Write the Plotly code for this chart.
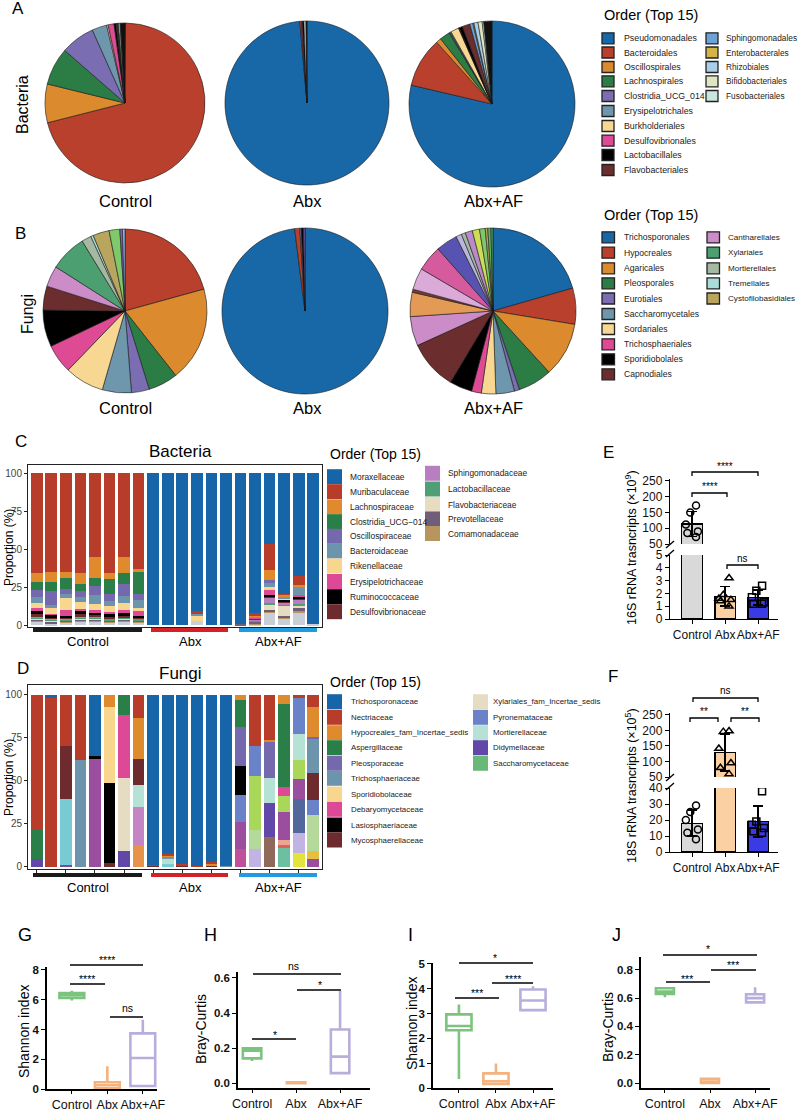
import numpy as np
import plotly.graph_objects as go

W, H = 797, 1111
FONT = "Liberation Sans, Arial, Helvetica, sans-serif"


def fx(x):
    return x / W


def fy(y):
    return 1 - y / H


def xdom(a, b):
    return [a / W, b / W]


def ydom(top, bottom):
    return [1 - bottom / H, 1 - top / H]


groups = ["Control", "Abx", "Abx+AF"]

# ======================= DATA =======================
# ---- A: bacterial orders, pies ----
bac_orders = ["Pseudomonadales", "Bacteroidales", "Oscillospirales", "Lachnospirales",
              "Clostridia_UCG_014", "Erysipelotrichales", "Burkholderiales",
              "Desulfovibrionales", "Lactobacillales", "Flavobacteriales",
              "Sphingomonadales", "Enterobacterales", "Rhizobiales",
              "Bifidobacteriales", "Fusobacteriales"]
pieA_labels = bac_orders + ["Others"]
pieA_control = [0.1, 71.0, 7.8, 7.6, 6.9, 3.0, 0.3, 1.2, 0.4, 0.2, 0.1, 0.1, 0.1, 0.3, 0.1, 0.9]
pieA_abx = [98.6, 0.3, 0, 0, 0, 0, 0, 0.2, 0.3, 0, 0, 0, 0, 0, 0.4, 0.2]
pieA_abxaf = [78.5, 9.7, 1.0, 2.0, 0.2, 0.2, 1.6, 0.1, 0.7, 1.5, 0.6, 0.2, 0.8, 0.8, 0.3, 1.6]

# ---- B: fungal orders, pies ----
fun_orders = ["Trichosporonales", "Hypocreales", "Agaricales", "Pleosporales", "Eurotiales",
              "Saccharomycetales", "Sordariales", "Trichosphaeriales", "Sporidiobolales",
              "Capnodiales", "Cantharellales", "Xylariales", "Mortierellales", "Tremellales",
              "Cystofilobasidiales"]
pieB_labels = fun_orders + ["Other lime", "Other violet", "Other sky"]
pieB_control = [0, 20.6, 18.6, 5.8, 3.5, 5.7, 7.7, 5.7, 7.2, 4.7, 4.1, 7.2, 1.9, 0.5, 3.2, 2.1, 0.5, 0.5]
pieB_abx = [98.0, 1.0, 0, 0, 0.3, 0, 0, 0, 0.4, 0, 0, 0, 0, 0, 0, 0, 0.3, 0]
pieB_abxaf_labels = ["Trichosporonales", "Hypocreales", "Agaricales", "Pleosporales", "Eurotiales",
                     "Saccharomycetales", "Sordariales", "Trichosphaeriales", "Sporidiobolales",
                     "Capnodiales", "Cantharellales", "Other orange", "Other brown", "Other lilac",
                     "Other magenta", "Other indigo", "Other lavender", "Mortierellales",
                     "Other orchid", "Other yellowgreen", "Other lime", "Cystofilobasidiales",
                     "Other green", "Xylariales"]
pieB_abxaf = [20.5, 7.0, 10.6, 6.6, 1.0, 3.6, 2.8, 1.9, 4.4, 9.6, 5.7, 4.7, 0.6, 4.2,
              5.0, 4.2, 1.1, 0.8, 1.4, 1.4, 1.1, 0.5, 0.6, 0.4]

# ---- C: bacterial families per sample (stacked %) ----
samples = ["Control_1", "Control_2", "Control_3", "Control_4", "Control_5", "Control_6",
           "Control_7", "Control_8", "Abx_1", "Abx_2", "Abx_3", "Abx_4", "Abx_5", "Abx_6",
           "AbxAF_1", "AbxAF_2", "AbxAF_3", "AbxAF_4", "AbxAF_5", "AbxAF_6"]
c_Moraxellaceae = [0, 0, 0, 0, 0, 0, 0, 0, 100, 100, 100, 91, 100, 100, 99, 92.3, 47, 79.5, 67.5, 99.5]
c_Muribaculaceae = [66, 65, 65, 66, 55, 66, 55.5, 63, 0, 0, 0, 1.5, 0, 0, 0, 1.3, 17, 0.5, 6, 0]
c_Lachnospiraceae = [5.5, 6.5, 4, 7, 14, 4, 10.5, 2, 0, 0, 0, 0, 0, 0, 0, 0.5, 6.5, 1, 1.5, 0]
c_Clostridia_UCG014 = [5.5, 6, 7, 4.5, 5, 9.5, 7, 14.5, 0, 0, 0, 0, 0, 0, 0, 0, 0, 0, 0, 0]
c_Oscillospiraceae = [4.5, 9.5, 3.5, 4, 6.5, 4.5, 8, 4, 0, 0, 0, 0, 0, 0, 0, 0, 2, 0.5, 0, 0]
c_Bacteroidaceae = [4, 1.5, 3, 3.5, 5.5, 3.5, 4.5, 5, 0, 0, 0, 1, 0, 0, 0, 0.8, 2.5, 1, 5, 0]
c_Rikenellaceae = [3.5, 4, 7.5, 4.5, 4, 4, 4.5, 2, 0, 0, 0, 4, 0, 0, 0, 0, 2, 0.5, 0, 0]
c_Erysipelotrichaceae = [1.5, 0.5, 4, 1.5, 2, 1, 2, 3.5, 0, 0, 0, 0, 0, 0, 0, 0.5, 3, 0.5, 1, 0]
c_Ruminococcaceae = [2.5, 2.5, 1, 2, 1.5, 2, 2, 1, 0, 0, 0, 0, 0, 0, 0, 0, 1, 1, 2, 0]
c_Desulfovibrionaceae = [1.5, 0.5, 1, 1.5, 1.5, 1, 1, 0.5, 0, 0, 0, 0, 0, 0, 0, 1, 1.5, 1, 0.5, 0]
c_Sphingomonadaceae = [0.3, 0.3, 0.3, 0.3, 0.3, 0.3, 0.3, 0.3, 0, 0, 0, 0, 0, 0, 0, 0.5, 3, 1, 2.5, 0]
c_Lactobacillaceae = [1, 1, 0.5, 1, 0.5, 1, 0.5, 1, 0, 0, 0, 0, 0, 0, 0, 0.5, 1.5, 0.5, 1, 0]
c_Flavobacteriaceae = [0.5, 0.5, 0.5, 0.5, 0.5, 0.5, 0.5, 0.5, 0, 0, 0, 0, 0, 0, 0, 0.5, 3, 7, 2, 0]
c_Prevotellaceae = [1, 1, 0.5, 1, 1, 0.5, 1, 0.5, 0, 0, 0, 0, 0, 0, 1, 1, 1, 1, 2, 0]
c_Comamonadaceae = [0.3, 0.3, 0.3, 0.3, 0.3, 0.3, 0.3, 0.3, 0, 0, 0, 0, 0, 0, 0, 0.5, 1, 1, 1, 0]
c_Others = [2.4, 0.9, 1.9, 2.4, 2.4, 1.9, 2.4, 1.9, 0, 0, 0, 2.5, 0, 0, 0, 0.6, 8, 4, 8, 0.5]

# ---- D: fungal families per sample (stacked %) ----
d_Trichosporonaceae = [0, 2, 0, 0, 35.5, 0, 0, 0, 98.6, 92.2, 98.5, 99.5, 97, 99.5, 0, 0, 0, 0, 0, 0]
d_Nectriaceae = [77.7, 98, 29.7, 38, 0, 0, 0, 13.2, 0.8, 1, 0.7, 0.5, 1, 0, 0, 29.7, 26.2, 0, 1.5, 6.8]
d_Hypocreales_fam = [0, 0, 0, 0, 0, 6.8, 0, 24.3, 0, 0.8, 0, 0, 1.5, 0, 3, 0, 1, 5.4, 0, 17.9]
d_Aspergillaceae = [17.4, 0, 0, 0, 0, 0, 11.7, 0, 0, 0, 0, 0, 0, 0, 15.5, 0, 0, 48, 0, 0]
d_Pleosporaceae = [0, 0, 0, 0, 0, 0, 0, 0, 0, 0, 0, 0, 0, 0, 22.9, 0, 21.3, 0, 0, 0.8]
d_Trichosphaeriaceae = [0, 0, 0, 62, 0, 0, 0, 0, 0, 1.5, 0, 0, 0, 0.5, 0, 0, 0, 0, 0, 20.1]
d_Sporidiobolaceae = [0, 0, 0, 0, 0, 44.2, 0, 0, 0, 0, 0, 0, 0, 0, 0, 0, 0, 0, 0, 0]
d_Debaryomycetaceae = [0, 0, 0, 0, 0, 0, 36.3, 0, 0, 0, 0, 0, 0, 0, 0, 0, 0, 5.4, 0, 0]
d_Lasiosphaeriaceae = [0, 0, 0, 0, 2, 46.7, 0, 0, 0, 0, 0, 0, 0, 0, 16.9, 0, 0, 0, 0, 0]
d_Mycosphaerellaceae = [0, 0, 30.9, 0, 0, 2.3, 0, 14.9, 0.6, 0, 0.8, 0, 0.5, 0, 0, 0, 0, 0, 0, 15.6]
d_Xylariales_fam = [0, 0, 0, 0, 0, 0, 42.9, 0, 0, 0, 0, 0, 0, 0, 0, 0, 0, 0, 0, 0]
d_Pyronemataceae = [0, 0, 0, 0, 0, 0, 0, 0, 0, 0, 0, 0, 0, 0, 15.5, 17.5, 0, 0, 21.2, 8.7]
d_Mortierellaceae = [0, 0, 0, 0, 0, 0, 0, 12.6, 0, 2.5, 0, 0, 0, 0, 0, 0, 14.6, 0, 15.2, 0]
d_Didymellaceae = [4.9, 0, 0, 0, 0, 0, 9.1, 0, 0, 0, 0, 0, 0, 0, 0, 0, 19.4, 0, 0, 0]
d_Saccharomycetaceae = [0, 0, 0, 0, 0, 0, 0, 0, 0, 0, 0, 0, 0, 0, 0, 0, 0, 0, 0, 0]
d_other_cyan = [0, 0, 38, 0, 0, 0, 0, 0, 0, 2, 0, 0, 0, 0, 0, 0, 0, 0, 0, 0]
d_other_lime = [0, 0, 0, 0, 0, 0, 0, 0, 0, 0, 0, 0, 0, 0, 0, 31.1, 0, 9.2, 11.2, 0]
d_other_lightgreen = [0, 0, 0, 0, 0, 0, 0, 0, 0, 0, 0, 0, 0, 0, 0, 11, 0, 0, 0, 21]
d_other_gold = [0, 0, 0, 0, 0, 0, 0, 0, 0, 0, 0, 0, 0, 0, 0, 0, 0, 0, 0, 4.2]
d_other_magenta = [0, 0, 0, 0, 62.5, 0, 0, 0, 0, 0, 0, 0, 0, 0, 15.5, 0, 0, 16.5, 11.1, 4.9]
d_other_slate = [0, 0, 0, 0, 0, 0, 0, 0, 0, 0, 0, 0, 0, 0, 0, 0, 0, 0, 20, 0]
d_other_salmon = [0, 0, 0, 0, 0, 0, 0, 0, 0, 0, 0, 0, 0, 0, 0, 0, 0, 2.9, 0, 0]
d_other_coral = [0, 0, 0, 0, 0, 0, 0, 0, 0, 0, 0, 0, 0, 0, 0, 0, 0, 1.6, 0, 0]
d_other_mint = [0, 0, 0, 0, 0, 0, 0, 0, 0, 0, 0, 0, 0, 0, 0, 0, 0, 11, 0, 0]
d_other_lavender = [0, 0, 0, 0, 0, 0, 0, 0, 0, 0, 0, 0, 0, 0, 0, 10.7, 0, 0, 11.6, 0]
d_other_yellow = [0, 0, 0, 0, 0, 0, 0, 0, 0, 0, 0, 0, 0, 0, 0, 0, 0, 0, 8.2, 0]
d_other_orchid = [0, 0, 0, 0, 0, 0, 0, 22.4, 0, 0, 0, 0, 0, 0, 0, 0, 0, 0, 0, 0]
d_other_orange = [0, 0, 0, 0, 0, 0, 0, 12.6, 0, 0, 0, 0, 0, 0, 0, 0, 0, 0, 0, 0]
d_other_pinkmagenta = [0, 0, 0, 0, 0, 0, 0, 0, 0, 0, 0, 0, 0, 0, 10.7, 0, 0, 0, 0, 0]
d_other_brownish = [0, 0, 0, 0, 0, 0, 0, 0, 0, 0, 0, 0, 0, 0, 0, 0, 17.5, 0, 0, 0]
d_other_purple = [0, 0, 1.4, 0, 0, 0, 0, 0, 0, 0, 0, 0, 0, 0, 0, 0, 0, 0, 0, 0]

# ---- E: 16S rRNA transcripts (x10^9) ----
e_control = [172, 150, 112, 90, 85, 72]
e_abx = [3.2, 1.9, 1.6, 1.5, 1.4, 1.0]
e_abxaf = [2.6, 2.2, 1.7, 1.3, 1.2, 1.2]

# ---- F: 18S rRNA transcripts (x10^5) ----
f_control = [29, 25, 20, 14, 12, 8]
f_abx = [198, 196, 142, 95, 80, 60]
f_abxaf = [38, 19, 17, 15, 13, 12]

# ---- G-J: box statistics [Control, Abx, Abx+AF] ----
g_q1 = [6.12, 0.05, 0.2]
g_med = [6.3, 0.25, 2.08]
g_q3 = [6.45, 0.45, 3.74]
g_lo = [5.95, 0.0, 0.2]
g_hi = [6.6, 1.53, 4.65]

h_q1 = [0.141, 0.0, 0.057]
h_med = [0.185, 0.002, 0.151]
h_q3 = [0.198, 0.005, 0.306]
h_lo = [0.126, 0.0, 0.057]
h_hi = [0.2, 0.01, 0.525]

i_q1 = [2.33, 0.16, 3.14]
i_med = [2.5, 0.27, 3.53]
i_q3 = [2.97, 0.59, 3.97]
i_lo = [0.36, 0.15, 3.1]
i_hi = [3.37, 0.99, 4.1]

j_q1 = [0.63, 0.0, 0.57]
j_med = [0.647, 0.01, 0.6]
j_q3 = [0.67, 0.03, 0.628]
j_lo = [0.607, 0.0, 0.57]
j_hi = [0.67, 0.03, 0.678]

# ======================= STYLE =======================
PIE_COL = {
    "Pseudomonadales": "#1868a8", "Bacteroidales": "#b8402c", "Oscillospirales": "#dc8a2e",
    "Lachnospirales": "#2b7c45", "Clostridia_UCG_014": "#7a6db2", "Erysipelotrichales": "#6e97ad",
    "Burkholderiales": "#f7d791", "Desulfovibrionales": "#de4a94", "Lactobacillales": "#000000",
    "Flavobacteriales": "#6b2d2e", "Sphingomonadales": "#6ca2d8", "Enterobacterales": "#d2b447",
    "Rhizobiales": "#a9cfe8", "Bifidobacteriales": "#dfe7c1", "Fusobacteriales": "#c8e5de",
    "Others": "#111111",
    "Trichosporonales": "#1868a8", "Hypocreales": "#b8402c", "Agaricales": "#dc8a2e",
    "Pleosporales": "#2b7c45", "Eurotiales": "#7a6db2", "Saccharomycetales": "#6e97ad",
    "Sordariales": "#f7d791", "Trichosphaeriales": "#de4a94", "Sporidiobolales": "#000000",
    "Capnodiales": "#6b2d2e", "Cantharellales": "#cc8cc8", "Xylariales": "#4c9f70",
    "Mortierellales": "#a5b9a2", "Tremellales": "#a9ddd8", "Cystofilobasidiales": "#b9a55e",
    "Other lime": "#7fc96a", "Other violet": "#7a5fb0", "Other sky": "#8fb8e6",
    "Other orange": "#e39a55", "Other brown": "#7a3a30", "Other lilac": "#dcaad8",
    "Other magenta": "#d65a9e", "Other indigo": "#5853b0", "Other lavender": "#b9b5dd",
    "Other orchid": "#b98ac9", "Other yellowgreen": "#cfdc55", "Other green": "#5fb55a",
}

C_FAMS = [
    ("Moraxellaceae", "#1565a8", c_Moraxellaceae),
    ("Muribaculaceae", "#b83c2a", c_Muribaculaceae),
    ("Lachnospiraceae", "#de8a2d", c_Lachnospiraceae),
    ("Clostridia_UCG\u2212014", "#2a7f48", c_Clostridia_UCG014),
    ("Oscillospiraceae", "#7469ad", c_Oscillospiraceae),
    ("Bacteroidaceae", "#6c95ad", c_Bacteroidaceae),
    ("Rikenellaceae", "#f8d68d", c_Rikenellaceae),
    ("Erysipelotrichaceae", "#dd4996", c_Erysipelotrichaceae),
    ("Ruminococcaceae", "#000000", c_Ruminococcaceae),
    ("Desulfovibrionaceae", "#6d2b2e", c_Desulfovibrionaceae),
    ("Sphingomonadaceae", "#b77fbf", c_Sphingomonadaceae),
    ("Lactobacillaceae", "#4f9e76", c_Lactobacillaceae),
    ("Flavobacteriaceae", "#e8dcc0", c_Flavobacteriaceae),
    ("Prevotellaceae", "#6f5d7a", c_Prevotellaceae),
    ("Comamonadaceae", "#b8955e", c_Comamonadaceae),
    ("Others", "#c9cfd6", c_Others),
]

D_FAMS = [
    ("Trichosporonaceae", "#1565a8", d_Trichosporonaceae),
    ("Nectriaceae", "#b83c2a", d_Nectriaceae),
    ("Hypocreales_fam_Incertae_sedis", "#de8a2d", d_Hypocreales_fam),
    ("Aspergillaceae", "#2a7f48", d_Aspergillaceae),
    ("Pleosporaceae", "#7469ad", d_Pleosporaceae),
    ("Trichosphaeriaceae", "#6c95ad", d_Trichosphaeriaceae),
    ("Sporidiobolaceae", "#f8d68d", d_Sporidiobolaceae),
    ("Debaryomycetaceae", "#dd4996", d_Debaryomycetaceae),
    ("Lasiosphaeriaceae", "#000000", d_Lasiosphaeriaceae),
    ("Mycosphaerellaceae", "#6d2b2e", d_Mycosphaerellaceae),
    ("Xylariales_fam_Incertae_sedis", "#e6dcc4", d_Xylariales_fam),
    ("Pyronemataceae", "#6a82c8", d_Pyronemataceae),
    ("Mortierellaceae", "#b6e2d6", d_Mortierellaceae),
    ("Didymellaceae", "#6047a8", d_Didymellaceae),
    ("Saccharomycetaceae", "#6ab878", d_Saccharomycetaceae),
    ("o_cyan", "#79cbd3", d_other_cyan),
    ("o_lime", "#a8d75a", d_other_lime),
    ("o_lightgreen", "#b5d99a", d_other_lightgreen),
    ("o_gold", "#e5c040", d_other_gold),
    ("o_magenta", "#9b4d9e", d_other_magenta),
    ("o_slate", "#52679a", d_other_slate),
    ("o_salmon", "#eba591", d_other_salmon),
    ("o_coral", "#e0605a", d_other_coral),
    ("o_mint", "#6cc0a0", d_other_mint),
    ("o_lavender", "#c2b4e2", d_other_lavender),
    ("o_yellow", "#e3e33c", d_other_yellow),
    ("o_orchid", "#c584c4", d_other_orchid),
    ("o_orange", "#e6924a", d_other_orange),
    ("o_pinkmagenta", "#c0509a", d_other_pinkmagenta),
    ("o_brownish", "#8f6a5a", d_other_brownish),
    ("o_purple", "#7a4b9a", d_other_purple),
]

GROUP_LINE = ["#1a1a1a", "#d42027", "#1f9be0"]
BAR_FILL = ["#d9d9d9", "#fbd0a3", "#3b3be6"]
BOX_COL = ["#7cc47e", "#f4b27f", "#b9aedb"]
MARKERS = ["circle-open", "triangle-up-open", "square-open"]

fig = go.Figure()
annotations = []
shapes = []


def T(text, x, y, size, xa="center", ya="middle", angle=0, color="#000", weight="normal"):
    annotations.append(dict(text=text, x=fx(x), y=fy(y), xref="paper", yref="paper",
                            showarrow=False, xanchor=xa, yanchor=ya, textangle=angle,
                            font=dict(family=FONT, size=size, color=color, weight=weight)))


def L(x0, y0, x1, y1, color="black", width=1.2):
    shapes.append(dict(type="line", xref="paper", yref="paper", x0=fx(x0), y0=fy(y0),
                       x1=fx(x1), y1=fy(y1), line=dict(color=color, width=width)))


def R(x0, y0, x1, y1, fill, lc=None, lw=0):
    shapes.append(dict(type="rect", xref="paper", yref="paper", x0=fx(x0), y0=fy(y1),
                       x1=fx(x1), y1=fy(y0), fillcolor=fill,
                       line=dict(color=lc if lc else fill, width=lw)))


def bracket(x0, x1, y, drop=4, width=1.3):
    shapes.append(dict(type="path", xref="paper", yref="paper",
                       path=f"M {fx(x0)},{fy(y + drop)} L {fx(x0)},{fy(y)} L {fx(x1)},{fy(y)} L {fx(x1)},{fy(y + drop)}",
                       line=dict(color="black", width=width)))


# ======================= PIES =======================
def add_pie(labels, values, cx, cy, r):
    lab = [l for l, v in zip(labels, values) if v > 0]
    val = [v for v in values if v > 0]
    fig.add_trace(go.Pie(labels=lab, values=val, sort=False, direction="clockwise", rotation=0,
                         textinfo="none", showlegend=False,
                         marker=dict(colors=[PIE_COL[l] for l in lab],
                                     line=dict(color="#1a1a1a", width=0.6)),
                         domain=dict(x=xdom(cx - r, cx + r), y=ydom(cy - r, cy + r))))


add_pie(pieA_labels, pieA_control, 125, 103, 80)
add_pie(pieA_labels, pieA_abx, 307, 103, 82)
add_pie(pieA_labels, pieA_abxaf, 492, 104, 83)
add_pie(pieB_labels, pieB_control, 125, 311, 82)
add_pie(pieB_labels, pieB_abx, 305, 311, 83)
add_pie(pieB_abxaf_labels, pieB_abxaf, 493, 311, 83)

T("A", 18, 9, 17)
T("B", 20, 233, 17)
T("Bacteria", 22, 105, 16, angle=-90)
T("Fungi", 27, 314, 16, angle=-90)
for lbl, x in zip(groups, [125, 307, 493]):
    T(lbl, x, 201, 16.5)
    T(lbl, x, 408, 16.5)

# pie legends
T("Order (Top 15)", 602, 15, 14.5, xa="left")
rowsA = [38.3, 52.5, 67, 81.3, 96, 111, 126, 140.7, 155, 170]
for i, name in enumerate(bac_orders):
    if i < 10:
        x0, tx, yy, fs = 602, 622, rowsA[i], 8.8
    else:
        x0, tx, yy, fs = 706, 724, rowsA[i - 10], 8.3
    R(x0, yy - 5.5, x0 + 12, yy + 5.5, PIE_COL[name], "#222", 1.3)
    T(name, tx, yy, fs, xa="left", color="#222")

T("Order (Top 15)", 602, 215, 14.5, xa="left")
rowsB = [237.3, 252.7, 268.3, 283.3, 298.5, 314, 329, 344.3, 359.3, 374.3]
for i, name in enumerate(fun_orders):
    if i < 10:
        x0, tx, yy, fs = 602, 622, rowsB[i], 8.6
    else:
        x0, tx, yy, fs = 707, 726, rowsB[i - 10], 8.1
    R(x0, yy - 5.5, x0 + 12.5, yy + 5.5, PIE_COL[name], "#222", 1.3)
    T(name, tx, yy, fs, xa="left", color="#222")

# ======================= C & D stacked bars =======================
for name, col, vals in reversed(C_FAMS):
    fig.add_trace(go.Bar(x=samples, y=vals, marker=dict(color=col, line=dict(width=0)),
                         name=name, showlegend=False, xaxis="x", yaxis="y"))
for name, col, vals in reversed(D_FAMS):
    fig.add_trace(go.Bar(x=samples, y=vals, marker=dict(color=col, line=dict(width=0)),
                         name=name, showlegend=False, xaxis="x2", yaxis="y2"))

T("C", 21, 442, 17)
T("D", 23, 668, 17)
T("Bacteria", 180, 451, 17)
T("Fungi", 180, 673, 17)
T("Proportion (%)", 9, 548, 12, angle=-90)
T("Proportion (%)", 9, 778, 12, angle=-90)

for ybar, ylab in [(630, 641), (875, 887)]:
    L(33, ybar, 142, ybar, GROUP_LINE[0], 4)
    L(151, ybar, 228, ybar, GROUP_LINE[1], 4)
    L(239, ybar, 317, ybar, GROUP_LINE[2], 4)
    T("Control", 88, ylab, 13)
    T("Abx", 190, ylab, 13)
    T("Abx+AF", 278, ylab, 13)

# C legend
T("Order (Top 15)", 328, 454, 14, xa="left")
rowsC1 = [476.7, 491.7, 507, 521.7, 536.3, 551, 566, 581.5, 596.7, 611.7]
rowsC2 = [473.3, 489, 504.5, 519, 533.5]
for i, (name, col, _) in enumerate(C_FAMS[:15]):
    if i < 10:
        x0, tx, yy = 327, 348, rowsC1[i]
    else:
        x0, tx, yy = 425, 446, rowsC2[i - 10]
    R(x0, yy - 7.5, x0 + 15, yy + 7.5, col)
    T(name, tx, yy, 8.4, xa="left", color="#222")

# D legend
T("Order (Top 15)", 328, 682, 14, xa="left")
rowsD = [701.7, 717.3, 732.7, 747.7, 763.3, 778.3, 794, 809.3, 825, 840]
for i, (name, col, _) in enumerate(D_FAMS[:15]):
    if i < 10:
        x0, tx, yy = 327, 349, rowsD[i]
    else:
        x0, tx, yy = 473, 491, rowsD[i - 10]
    R(x0, yy - 7.5, x0 + 15, yy + 7.5, col)
    T(name, tx, yy, 7.9, xa="left", color="#222")

# ======================= E & F broken-axis bars =======================
def add_broken(pts_list, xa, ya_up, ya_lo, low_max):
    means = [float(np.mean(p)) for p in pts_list]
    sds = [float(np.std(p, ddof=1)) for p in pts_list]
    for ya in (ya_up, ya_lo):
        fig.add_trace(go.Bar(x=groups, y=means, width=0.62,
                             marker=dict(color=BAR_FILL, line=dict(color="black", width=1.2)),
                             error_y=dict(type="data", array=sds, color="black", thickness=1.6, width=5),
                             showlegend=False, xaxis=xa, yaxis=ya))
    for g, pts, sym in zip(groups, pts_list, MARKERS):
        lo = [p for p in pts if p <= low_max]
        up = [p for p in pts if p > low_max]
        for sub, ya in ((up, ya_up), (lo, ya_lo)):
            if sub:
                fig.add_trace(go.Box(x=[g] * len(sub), y=sub, boxpoints="all", jitter=0.9, pointpos=0,
                                     width=0.5, fillcolor="rgba(0,0,0,0)",
                                     line=dict(color="rgba(0,0,0,0)", width=0),
                                     marker=dict(symbol=sym, size=7, color="black",
                                                 line=dict(color="black", width=1.5)),
                                     showlegend=False, xaxis=xa, yaxis=ya))


add_broken([e_control, e_abx, e_abxaf], "x3", "y3", "y4", 5)
add_broken([f_control, f_abx, f_abxaf], "x4", "y5", "y6", 40)

T("E", 608, 452, 17)
T("F", 613, 677, 17)
T("16S rRNA trasncripts (\u00d710<sup>9</sup>)", 631, 548, 12.5, angle=-90)
T("18S rRNA trasncripts (\u00d710<sup>5</sup>)", 631, 786, 12.5, angle=-90)
# axis break marks
for yb in (541, 550):
    L(666, yb + 7, 674, yb, "black", 1.3)
for yb in (774, 783):
    L(666, yb + 7, 674, yb, "black", 1.3)

T("****", 725, 466, 10)
bracket(692, 758, 472)
T("****", 710, 487, 10)
bracket(692, 727, 493)
T("ns", 742, 558, 10)
bracket(727, 758, 565)

T("ns", 725, 690, 10)
bracket(693, 758, 698)
T("**", 704, 711, 10)
bracket(690, 718, 718)
T("**", 745, 711, 10)
bracket(731, 759, 718)

# ======================= G-J boxes =======================
def add_boxes(q1, med, q3, lo, hi, xa, ya, w):
    for k, g in enumerate(groups):
        fig.add_trace(go.Box(x=[g], q1=[q1[k]], median=[med[k]], q3=[q3[k]],
                             lowerfence=[lo[k]], upperfence=[hi[k]], width=w,
                             fillcolor="white", line=dict(color=BOX_COL[k], width=2.6),
                             whiskerwidth=0, boxpoints=False, showlegend=False,
                             xaxis=xa, yaxis=ya))


add_boxes(g_q1, g_med, g_q3, g_lo, g_hi, "x5", "y7", 0.7)
add_boxes(h_q1, h_med, h_q3, h_lo, h_hi, "x6", "y8", 0.42)
add_boxes(i_q1, i_med, i_q3, i_lo, i_hi, "x7", "y9", 0.68)
add_boxes(j_q1, j_med, j_q3, j_lo, j_hi, "x8", "y10", 0.4)

T("G", 25, 935, 18)
T("H", 210, 935, 18)
T("I", 410, 935, 18)
T("J", 616, 935, 18)
T("Shannon index", 24, 1032, 14, angle=-90)
T("Bray-Curtis", 201, 1029, 14, angle=-90)
T("Shannon index", 412, 1024, 14, angle=-90)
T("Bray-Curtis", 608, 1027, 14, angle=-90)

sig_lines = [
    ("****", 107, 958, 70, 143, 965), ("****", 87, 977, 70, 105, 984), ("ns", 127, 1008, 110, 143, 1017),
    ("ns", 293, 966, 253, 341, 974), ("*", 320, 983, 297, 341, 990), ("*", 275, 1033, 252, 296, 1039),
    ("*", 495, 956, 459, 533, 963), ("****", 513, 977, 492, 533, 983), ("***", 477, 991, 455, 499, 998),
    ("*", 708, 947, 663, 757, 955), ("***", 733, 963, 711, 756, 970), ("***", 687, 977, 666, 710, 982),
]
for txt, tx, ty, x0, x1, yl in sig_lines:
    T(txt, tx, ty + (2 if "*" in txt else 0), 10.5)
    L(x0, yl, x1, yl, "black", 1.4)

# ======================= LAYOUT =======================
bar_axis = dict(showline=True, linecolor="#222", linewidth=1, mirror=True, ticks="outside",
                ticklen=3, tickcolor="#222", showgrid=False, zeroline=False, automargin=False,
                tickfont=dict(family=FONT, size=10, color="#444"))
e_axis = dict(showline=True, linecolor="black", linewidth=1.4, ticks="outside", ticklen=4,
              tickcolor="black", tickwidth=1.3, showgrid=False, zeroline=False, automargin=False,
              tickfont=dict(family=FONT, size=12, color="#111"))
box_y = dict(showline=True, linecolor="black", linewidth=1.6, ticks="outside", ticklen=4,
             tickcolor="black", tickwidth=1.4, showgrid=False, zeroline=False, automargin=False,
             tickfont=dict(family=FONT, size=11.5, color="#111", weight="bold"))
box_x = dict(showline=True, linecolor="black", linewidth=1.6, ticks="outside", ticklen=3,
             tickcolor="black", tickwidth=1.4, showgrid=False, zeroline=False, type="category",
             automargin=False, tickangle=0, tickfont=dict(family=FONT, size=12.5, color="#111"))

fig.update_layout(
    width=W, height=H, margin=dict(l=0, r=0, t=0, b=0, autoexpand=False),
    paper_bgcolor="white", plot_bgcolor="white",
    showlegend=False, barmode="stack", bargap=0.2,
    font=dict(family=FONT, color="#000"),
    annotations=annotations, shapes=shapes,
    xaxis=dict(bar_axis, domain=xdom(28, 322), anchor="y", range=[-0.6, 19.6],
               showticklabels=False, type="category"),
    yaxis=dict(bar_axis, domain=ydom(465, 627), anchor="x", range=[-1.3, 105.3],
               tickvals=[0, 25, 50, 75, 100]),
    xaxis2=dict(bar_axis, domain=xdom(28, 322), anchor="y2", range=[-0.6, 19.6],
                showticklabels=False, type="category"),
    yaxis2=dict(bar_axis, domain=ydom(685, 869), anchor="x2", range=[-1.2, 105.8],
                tickvals=[0, 25, 50, 75, 100]),
    xaxis3=dict(e_axis, domain=xdom(670, 778), anchor="y4", range=[-0.67, 2.6], type="category",
                tickangle=0, tickfont=dict(family=FONT, size=12, color="#111")),
    yaxis3=dict(e_axis, domain=ydom(479, 544), anchor="x3", range=[50, 256],
                tickvals=[50, 100, 150, 200, 250]),
    yaxis4=dict(e_axis, domain=ydom(555, 619), anchor="x3", range=[0, 5],
                tickvals=[0, 1, 2, 3, 4, 5]),
    xaxis4=dict(e_axis, domain=xdom(670, 778), anchor="y6", range=[-0.67, 2.6], type="category",
                tickangle=0, tickfont=dict(family=FONT, size=12, color="#111")),
    yaxis5=dict(e_axis, domain=ydom(713, 777), anchor="x4", range=[50, 256],
                tickvals=[50, 100, 150, 200, 250]),
    yaxis6=dict(e_axis, domain=ydom(788, 852), anchor="x4", range=[0, 40],
                tickvals=[0, 10, 20, 30, 40]),
    xaxis5=dict(box_x, domain=xdom(47, 157), anchor="y7", range=[-0.7, 2.4]),
    yaxis7=dict(box_y, domain=ydom(967, 1089), anchor="x5", range=[0, 8.2], tickvals=[0, 2, 4, 6, 8]),
    xaxis6=dict(box_x, domain=xdom(238, 370), anchor="y8", range=[-0.32, 2.68]),
    yaxis8=dict(box_y, domain=ydom(972, 1088), anchor="x6", range=[-0.028, 0.634],
                tickvals=[0, 0.2, 0.4, 0.6], tickformat=".1f"),
    xaxis7=dict(box_x, domain=xdom(433, 553), anchor="y9", range=[-0.7, 2.54]),
    yaxis9=dict(box_y, domain=ydom(963, 1088), anchor="x7", range=[0, 5.04],
                tickvals=[0, 1, 2, 3, 4, 5]),
    xaxis8=dict(box_x, domain=xdom(641, 770), anchor="y10", range=[-0.53, 2.33]),
    yaxis10=dict(box_y, domain=ydom(957, 1088), anchor="x8", range=[-0.035, 0.891],
                 tickvals=[0, 0.2, 0.4, 0.6, 0.8], tickformat=".1f"),
)

fig.write_html("out.html", config={"displayModeBar": False},
               post_script="document.body.style.margin='0px';")
